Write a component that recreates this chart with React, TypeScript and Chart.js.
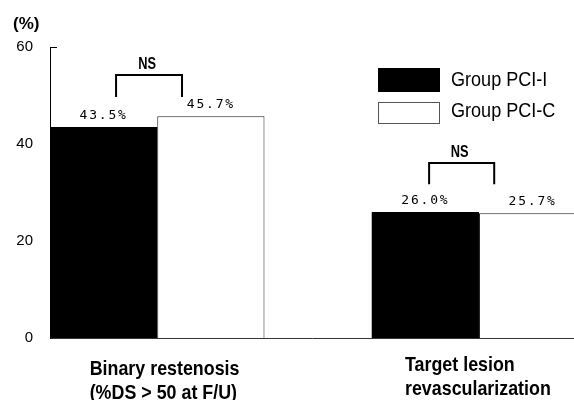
import React, { useEffect, useRef } from 'react';
import { Chart, registerables } from 'chart.js';

Chart.register(...registerables);

// ---- data ----
const categories: string[][] = [
  ['Binary restenosis', '(%DS > 50 at F/U)'],
  ['Target lesion', 'revascularization'],
];
const seriesNames = ['Group PCI-I', 'Group PCI-C'];
const groupPCI_I = [43.5, 26.0];
const groupPCI_C = [45.7, 25.7];
const yTickValues = [0, 20, 40, 60];
const significance = ['NS', 'NS'];
// significance brackets (data units)
const bracketFrom = [0.616, 3.535];
const bracketTo = [1.231, 4.142];
const bracketTop = [54.2, 36.1];
const bracketFoot = [49.7, 31.7];

const SLOT = 3; // x units per category
const groupCenter = (i: number) => 1 + SLOT * i;

const SANS = "'Liberation Sans', Arial, sans-serif";
const MONO = "'DejaVu Sans Mono', monospace";

function condensed(ctx: CanvasRenderingContext2D, text: string, x: number, y: number, sx: number, align: CanvasTextAlign) {
  ctx.save();
  ctx.translate(x, y);
  ctx.scale(sx, 1);
  ctx.textAlign = align;
  ctx.textBaseline = 'alphabetic';
  ctx.fillText(text, 0, 0);
  ctx.restore();
}

const labelShift = [-0.63, -0.69];
const labelDrop = [37, 33];

const overlay = {
  id: 'overlay',
  afterDraw(chart: any) {
    const ctx: CanvasRenderingContext2D = chart.ctx;
    const xs = chart.scales.x;
    const ys = chart.scales.y;
    const area = chart.chartArea;
    ctx.save();
    ctx.fillStyle = '#000';
    // unit label
    ctx.font = `bold 17px ${SANS}`;
    ctx.textAlign = 'left';
    ctx.textBaseline = 'middle';
    ctx.fillText('(%)', 13, 24);
    // small top tick
    const yTop = Math.round(ys.getPixelForValue(yTickValues[yTickValues.length - 1])) + 0.5;
    ctx.strokeStyle = '#000';
    ctx.lineWidth = 1;
    ctx.beginPath();
    ctx.moveTo(area.left, yTop);
    ctx.lineTo(area.left + 7, yTop);
    ctx.stroke();
    // category labels (left aligned, condensed)
    ctx.font = `bold 21px ${SANS}`;
    categories.forEach((lines, i) => {
      const x = xs.getPixelForValue(groupCenter(i) + labelShift[i]);
      lines.forEach((ln, k) => condensed(ctx, ln, x, area.bottom + labelDrop[i] + k * 24, 0.85, 'left'));
    });
    // value labels
    ctx.font = `13px ${MONO}`;
    (ctx as any).letterSpacing = '1.8px';
    ctx.textAlign = 'center';
    ctx.textBaseline = 'alphabetic';
    chart.data.datasets.forEach((ds: any, di: number) => {
      const meta = chart.getDatasetMeta(di);
      meta.data.forEach((bar: any, i: number) => {
        const v = ds.data[i].y as number;
        ctx.fillText(v.toFixed(1) + '%', bar.x, bar.y - 8);
      });
    });
    (ctx as any).letterSpacing = '0px';
    // brackets
    ctx.lineWidth = 2;
    ctx.strokeStyle = '#000';
    significance.forEach((txt, i) => {
      const x1 = xs.getPixelForValue(bracketFrom[i]);
      const x2 = xs.getPixelForValue(bracketTo[i]);
      const yt = Math.round(ys.getPixelForValue(bracketTop[i]));
      const yf = ys.getPixelForValue(bracketFoot[i]);
      ctx.beginPath();
      ctx.moveTo(x1, yf);
      ctx.lineTo(x1, yt);
      ctx.lineTo(x2, yt);
      ctx.lineTo(x2, yf);
      ctx.stroke();
      ctx.font = `bold 16px ${SANS}`;
      condensed(ctx, txt, (x1 + x2) / 2 - 2, yt - 6, 0.8, 'center');
    });
    // legend
    const boxes = [
      { y: 68, h: 24, baseline: 86 },
      { y: 102, h: 22, baseline: 117 },
    ];
    chart.data.datasets.forEach((ds: any, di: number) => {
      const b = boxes[di];
      ctx.fillStyle = ds.backgroundColor;
      ctx.fillRect(378, b.y, 62, b.h);
      if (ds.borderWidth) {
        ctx.strokeStyle = '#555';
        ctx.lineWidth = 1;
        ctx.strokeRect(378.5, b.y + 0.5, 61, b.h - 1);
      }
      ctx.fillStyle = '#000';
      ctx.font = `21px ${SANS}`;
      condensed(ctx, ds.label, 451, b.baseline, 0.86, 'left');
    });
    ctx.restore();
  },
};

export default function App() {
  const ref = useRef<HTMLCanvasElement>(null);
  useEffect(() => {
    const chart = new Chart(ref.current as HTMLCanvasElement, {
      type: 'bar',
      data: {
        datasets: [
          {
            label: seriesNames[0],
            data: groupPCI_I.map((v, i) => ({ x: groupCenter(i), y: v })),
            backgroundColor: '#000',
            borderColor: '#000',
            borderWidth: 0,
            categoryPercentage: 2 / 3,
            barPercentage: 1,
            clip: false,
          },
          {
            label: seriesNames[1],
            data: groupPCI_C.map((v, i) => ({ x: groupCenter(i), y: v })),
            backgroundColor: '#fff',
            borderColor: '#222',
            borderWidth: 1,
            categoryPercentage: 2 / 3,
            barPercentage: 1,
            clip: false,
          },
        ] as any,
      },
      options: {
        animation: false,
        responsive: false,
        devicePixelRatio: 1,
        layout: { padding: { top: 47, left: 0, right: 0, bottom: 0 } },
        plugins: {
          legend: { display: false },
          tooltip: { enabled: false },
        },
        scales: {
          x: {
            type: 'linear',
            offset: false,
            min: 0,
            max: 4.886,
            grid: { display: false, drawTicks: false, offset: false },
            border: { display: true, color: '#333', width: 1 },
            afterBuildTicks: (s: any) => {
              s.ticks = categories.map((_, i) => ({ value: groupCenter(i) }));
            },
            afterFit: (s: any) => {
              s.height = 62;
              s.paddingLeft = 0;
              s.paddingRight = 0;
            },
            ticks: { display: false },
          },
          y: {
            min: 0,
            max: 60,
            afterBuildTicks: (s: any) => {
              s.ticks = yTickValues.map((v) => ({ value: v }));
            },
            afterFit: (s: any) => {
              s.width = 50;
              s.paddingTop = 0;
              s.paddingBottom = 0;
            },
            grid: { display: false, drawTicks: false },
            border: { display: true, color: '#000', width: 1 },
            ticks: { padding: 17, color: '#000', font: { family: SANS, size: 15 } },
          },
        },
      } as any,
      plugins: [overlay],
    });
    return () => chart.destroy();
  }, []);
  return (
    <div style={{ position: 'fixed', left: 0, top: 0, width: 574, height: 400, overflow: 'hidden', background: '#fff' }}>
      <canvas ref={ref} width={574} height={400} style={{ display: 'block' }} />
    </div>
  );
}
